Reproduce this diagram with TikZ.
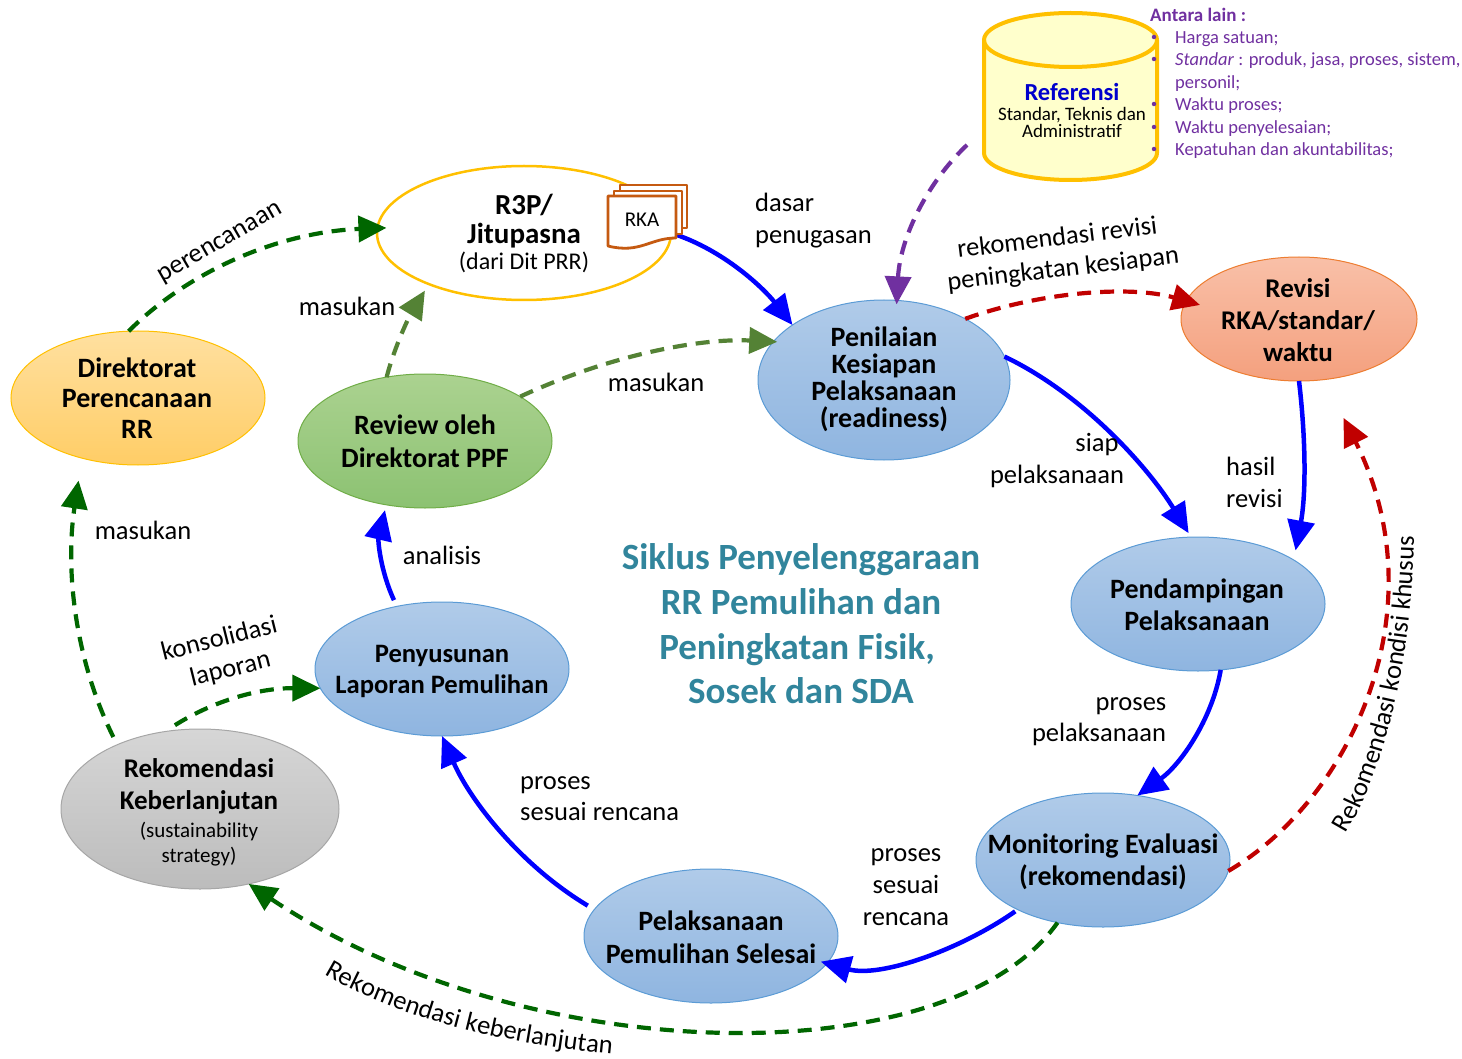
\documentclass[tikz,border=0pt]{standalone}
\usepackage{fontspec}
\setmainfont{Carlito}
\usetikzlibrary{shapes.geometric,arrows.meta,decorations.text}
\definecolor{cyel}{HTML}{FFC000}
\definecolor{cblue}{HTML}{0000FF}
\definecolor{cdg}{HTML}{006600}
\definecolor{col}{HTML}{548235}
\definecolor{cred}{HTML}{C00000}
\definecolor{cpur}{HTML}{7030A0}
\definecolor{corg}{HTML}{C55A11}
\definecolor{cteal}{HTML}{31859C}
\definecolor{cblueb}{HTML}{5B9BD5}
\definecolor{cbluet}{HTML}{B0CBE9}
\definecolor{cbluem}{HTML}{8FB5E0}
\definecolor{cgrb}{HTML}{70AD47}
\definecolor{cgrt}{HTML}{ABD290}
\definecolor{cgrm}{HTML}{8CC272}
\definecolor{cdirt}{HTML}{FFE0A0}
\definecolor{cdirb}{HTML}{FFCD66}
\definecolor{crkab}{HTML}{ED7D31}
\definecolor{crkat}{HTML}{F9C0A8}
\definecolor{crkam}{HTML}{F4A07E}
\definecolor{cgyb}{HTML}{A6A6A6}
\definecolor{cgyt}{HTML}{D6D6D6}
\definecolor{cgym}{HTML}{BCBCBC}
\definecolor{ccyl}{HTML}{FFFFCC}
\definecolor{crefb}{HTML}{0000CC}
\newcommand{\fs}[1]{\fontsize{#1}{#1}\selectfont}
\tikzset{
  x=1pt,y=-1pt,
  ell/.style={ellipse,inner sep=0pt,outer sep=0pt,line width=1pt},
  bluee/.style={ell,draw=cblueb,top color=cbluet,bottom color=cbluem},
  ntext/.style={inner sep=0pt,align=center,text=black},
  flow/.style={line width=4.5pt,cblue,-{Triangle[length=30pt,width=27pt]}},
  gdash/.style={line width=4.2pt,cdg,dash pattern=on 14pt off 9pt,-{Triangle[length=28pt,width=26pt]}},
  oldash/.style={line width=4.2pt,col,dash pattern=on 14pt off 9pt,-{Triangle[length=28pt,width=26pt]}},
  rdash/.style={line width=4.2pt,cred,dash pattern=on 14pt off 9pt,-{Triangle[length=28pt,width=26pt]}},
  pdash/.style={line width=4.2pt,cpur,dash pattern=on 14pt off 9pt,-{Triangle[length=28pt,width=26pt]}},
  lab/.style={font=\fs{26.5},text height=23.5pt,text depth=6pt,inner sep=0pt,text=black},
  llab/.style={lab,anchor=west},
  pur/.style={font=\fs{18.5},text height=17pt,text depth=4.5pt,anchor=west,inner sep=0pt,text=cpur},
  bul/.style={circle,fill=cpur,inner sep=0pt,minimum size=4.5pt},
  doc/.style={draw=corg,fill=white,line width=2.8pt,line join=round},
  ttl/.style={inner sep=0pt,font=\bfseries\fs{37},text height=32pt,text depth=8pt,text=cteal},
}
\begin{document}
\begin{tikzpicture}
\useasboundingbox (0,0) rectangle (1462,1059);
% nodes
\node[ell,draw=cyel,top color=cdirt,bottom color=cdirb,minimum width=254pt,minimum height=134pt] (dir) at (138,398) {};
\node[ell,draw=cyel,fill=white,line width=2.5pt,minimum width=294pt,minimum height=134pt] (r3p) at (524,233) {};
\node[ell,draw=cgrb,top color=cgrt,bottom color=cgrm,minimum width=254pt,minimum height=134pt] (rev) at (425,441) {};
\node[bluee,minimum width=252pt,minimum height=160pt] (pen) at (884,380) {};
\node[ell,draw=crkab,top color=crkat,bottom color=crkam,minimum width=236pt,minimum height=124pt] (rka) at (1299,319) {};
\node[bluee,minimum width=254pt,minimum height=134pt] (pend) at (1198,604) {};
\node[bluee,minimum width=254pt,minimum height=134pt] (mon) at (1103,860) {};
\node[bluee,minimum width=254pt,minimum height=134pt] (pel) at (711,936) {};
\node[bluee,minimum width=254pt,minimum height=134pt] (lap) at (442,669) {};
\node[ell,draw=cgyb,top color=cgyt,bottom color=cgym,minimum width=278pt,minimum height=160pt] (rek) at (200,809) {};
% cylinder
\path[draw=cyel,fill=ccyl,line width=4pt] (984,40) arc[x radius=86.5,y radius=-27,start angle=180,end angle=0] -- (1157,153) arc[x radius=86.5,y radius=-27,start angle=0,end angle=-180] -- cycle;
\path[draw=cyel,line width=4pt] (984,40) arc[x radius=86.5,y radius=-27,start angle=180,end angle=360];
\node[inner sep=0pt,font=\bfseries\fs{24.5},text=crefb] (refa) at (1072,92) {Referensi};
\node[ntext,font=\fs{19}] (refb) at (1072,122) {Standar, Teknis dan\\[-2pt]Administratif};
\coordinate (refout) at (967,145);
% purple list
\node[pur,font=\bfseries\fs{19}] (al) at (1150,15) {Antara lain :};
\node[pur] (l1) at (1175,37) {Harga satuan;};
\node[pur] (l2) at (1175,59) {\textit{Standar} : produk, jasa, proses, sistem,};
\node[pur] (l3) at (1175,82) {personil;};
\node[pur] (l4) at (1175,104) {Waktu proses;};
\node[pur] (l5) at (1175,127) {Waktu penyelesaian;};
\node[pur] (l6) at (1175,149) {Kepatuhan dan akuntabilitas;};
\node[bul] (b1) at (1154,37) {};
\node[bul] (b2) at (1154,59) {};
\node[bul] (b4) at (1154,104) {};
\node[bul] (b5) at (1154,127) {};
\node[bul] (b6) at (1154,149) {};
% connectors
\draw[gdash] (dir.98) .. controls (190,270) and (280,232) .. ([shift={(9,0)}]r3p.178);
\draw[oldash] (rev.121) .. controls (395,345) and (410,315) .. ([shift={(-8,5)}]r3p.210);
\draw[oldash] (rev.25) .. controls (610,355) and (700,338) .. ([shift={(4,0)}]pen.161);
\draw[flow] (r3p.0) .. controls (725,250) and (765,290) .. (pen.149);
\draw[pdash] (refout) .. controls (925,185) and (900,240) .. ([shift={(0,4)}]pen.81);
\draw[rdash] (pen.37) .. controls (1040,292) and (1130,285) .. ([shift={(15,2)}]rka.172);
\draw[flow] (pen.11) .. controls (1085,395) and (1150,470) .. ([shift={(0,-4)}]pend.98);
\draw[flow] (rka.270) .. controls (1306,440) and (1306,495) .. ([shift={(10,-5)}]pend.29);
\draw[flow] (pend.289) .. controls (1212,720) and (1180,765) .. (mon.62);
\draw[flow] ([shift={(-4,1)}]mon.211) .. controls (960,950) and (880,978) .. ([shift={(-5,-3)}]pel.346);
\draw[flow] ([shift={(-10,0)}]pel.165) .. controls (520,865) and (470,800) .. (lap.270);
\draw[flow] ([shift={(-4,-6)}]lap.125) .. controls (380,570) and (378,540) .. ([shift={(-3,5)}]rev.240);
\draw[gdash] ([shift={(-1,-5)}]rek.107) .. controls (215,700) and (260,688) .. (lap.189);
\draw[gdash] ([shift={(-8,-6)}]rek.140) .. controls (75,660) and (65,570) .. ([shift={(-14,20)}]dir.234);
\draw[gdash] (mon.234) .. controls (950,1075) and (530,1072) .. (rek.303);
\draw[rdash] (mon.355) .. controls (1350,800) and (1440,610) .. ([shift={(14,39)}]rka.297);
% RKA document
\path[doc] (620,185) rectangle (687,228);
\path[doc] (614,191) rectangle (682,234);
\path[doc] (608,196) -- (676,196) -- (676,238) .. controls (650,238) and (640,254) .. (608,246) -- cycle;
\node[inner sep=0pt,font=\fs{21}] (rkat) at (642,220) {RKA};
% node texts
\node[ntext,font=\bfseries\fs{28}] (xdir) at (137,398) {Direktorat\\[2.5pt]Perencanaan\\[2.5pt]RR};
\node[ntext,font=\fs{29}] (xr3p) at (524,233) {{\bfseries R3P/}\\{\bfseries Jitupasna}\\[-3pt]{\fs{24}(dari Dit PRR)}};
\node[ntext,font=\bfseries\fs{28}] (xrev) at (425,441) {Review oleh\\[5pt]Direktorat PPF};
\node[ntext,font=\bfseries\fs{28}] (xpen) at (884,379) {Penilaian\\[-1pt]Kesiapan\\[-1pt]Pelaksanaan\\[-1pt](readiness)};
\node[ntext,font=\bfseries\fs{27}] (xrka) at (1298,320) {Revisi\\[5pt]RKA/standar/\\[5pt]waktu};
\node[ntext,font=\bfseries\fs{28}] (xpend) at (1197,605) {Pendampingan\\[4pt]Pelaksanaan};
\node[ntext,font=\bfseries\fs{28}] (xmon) at (1103,862) {Monitoring Evaluasi\\[4pt](rekomendasi)};
\node[ntext,font=\bfseries\fs{28}] (xpel) at (711,937) {Pelaksanaan\\[5pt]Pemulihan Selesai};
\node[ntext,font=\bfseries\fs{26.6}] (xlap) at (442,671) {Penyusunan\\[4.4pt]Laporan Pemulihan};
\node[ntext,font=\fs{27}] (xrek) at (199,812) {{\bfseries Rekomendasi}\\[5pt]{\bfseries Keberlanjutan}\\[1pt]{\fs{21}(sustainability}\\[-2pt]{\fs{21}strategy)}};
% labels
\node[llab] (t1) at (755,203) {dasar};
\node[llab] (t2) at (755,235) {penugasan};
\node[lab,rotate=7] (t3) at (1057,237) {rekomendasi revisi};
\node[lab,rotate=6.6] (t4) at (1063,268) {peningkatan kesiapan};
\node[lab] (t5) at (347,307) {masukan};
\node[lab] (t6) at (656,383) {masukan};
\node[lab] (t7) at (1097,443) {siap};
\node[lab] (t8) at (1057,475) {pelaksanaan};
\node[llab] (t9) at (1226,467) {hasil};
\node[llab] (t10) at (1226,499) {revisi};
\node[lab,rotate=30] (t11) at (219,240) {perencanaan};
\node[lab] (t12) at (143,531) {masukan};
\node[lab] (t13) at (442,556) {analisis};
\node[lab,rotate=14] (t14) at (219,638) {konsolidasi};
\node[lab,rotate=14] (t15) at (230,668) {laporan};
\node[lab] (t16) at (1131,702) {proses};
\node[lab] (t17) at (1099,733) {pelaksanaan};
\node[llab] (t18) at (520,781) {proses};
\node[llab] (t19) at (520,812) {sesuai rencana};
\node[lab] (t20) at (906,853) {proses};
\node[lab] (t21) at (906,885) {sesuai};
\node[lab] (t22) at (906,917) {rencana};
\coordinate (k1) at (324,974);
\coordinate (k2) at (612,1054);
\path[decorate,decoration={text along path,text align=center,text={|\fs{26.5}|Rekomendasi keberlanjutan}}] (k1) .. controls (400,1019) and (500,1043) .. (k2);
\coordinate (q1) at (1345,835);
\coordinate (q2) at (1414,535);
\path[decorate,decoration={text along path,text align=center,text={|\fs{26.5}|Rekomendasi kondisi khusus}}] (q1) .. controls (1385,770) and (1412,660) .. (q2);
% title
\node[ttl] (c1) at (801,557) {Siklus Penyelenggaraan};
\node[ttl] (c2) at (801,602) {RR Pemulihan dan};
\node[ttl] (c3) at (797,647) {Peningkatan Fisik,};
\node[ttl] (c4) at (801,691) {Sosek dan SDA};
\end{tikzpicture}
\end{document}
